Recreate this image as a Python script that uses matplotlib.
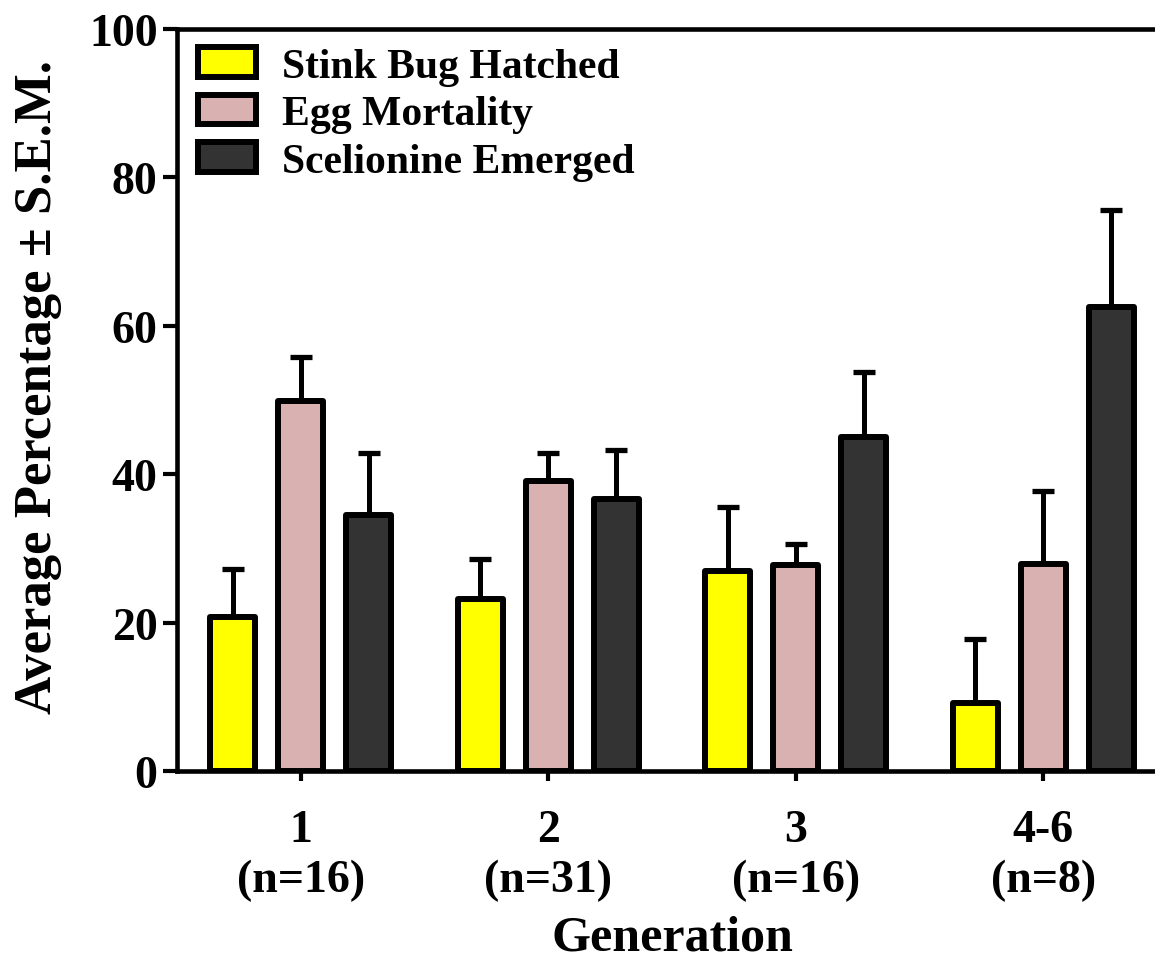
import matplotlib
matplotlib.use("Agg")
import matplotlib.pyplot as plt
import numpy as np
from matplotlib.patches import Patch

generations = ["1\n(n=16)", "2\n(n=31)", "3\n(n=16)", "4-6\n(n=8)"]
series_names = ["Stink Bug Hatched", "Egg Mortality", "Scelionine Emerged"]
hatched = [20.7, 23.2, 27.0, 9.2]
hatched_sem = [6.5, 5.4, 8.6, 8.6]
mortality = [49.9, 39.1, 27.8, 27.9]
mortality_sem = [5.9, 3.8, 2.8, 9.8]
emerged = [34.5, 36.7, 45.0, 62.5]
emerged_sem = [8.4, 6.6, 8.8, 13.1]
colors = ["#FFFF00", "#D8B1B0", "#333333"]

plt.rcParams['font.family'] = ['Liberation Serif', 'DejaVu Serif']
plt.rcParams['font.weight'] = 'bold'

fig = plt.figure(figsize=(11.55, 9.62), dpi=100)
ax = fig.add_axes([177/1155, 1-772/962, 990/1155, 742/962])

x = np.arange(len(generations))
pitch = 0.274
width = 0.182
vals = [hatched, mortality, emerged]
sems = [hatched_sem, mortality_sem, emerged_sem]
for i, (v, s, c) in enumerate(zip(vals, sems, colors)):
    pos = x + (i - 1) * pitch
    ax.errorbar(pos, v, yerr=[np.zeros(len(s)), s], fmt='none', ecolor='black',
                elinewidth=3.6, capsize=8, capthick=3.8, zorder=1)
    ax.bar(pos, v, width=width, color=c, edgecolor='black', linewidth=4.3,
           joinstyle='round', zorder=2)

ax.set_xlim(-0.5, 3.5)
ax.set_ylim(0, 100)
ax.set_yticks([0, 20, 40, 60, 80, 100])
ax.set_xticks(x)
ax.set_xticklabels(generations, fontsize=33, fontweight='bold', linespacing=1.25)
ax.tick_params(axis='y', labelsize=33, length=10, width=3, pad=4)
ax.tick_params(axis='x', length=7, width=3, pad=20)
for lab in ax.get_yticklabels():
    lab.set_fontweight('bold')
for sp in ax.spines.values():
    sp.set_linewidth(3.3)

ax.set_xlabel("Generation", fontsize=36, fontweight='bold', labelpad=10)
ax.set_ylabel("Average Percentage ± S.E.M.", fontsize=38, fontweight='bold')
ax.yaxis.set_label_coords(-0.116, 0.519)

handles = [Patch(facecolor=c, edgecolor='black', linewidth=4.3, joinstyle='round') for c in colors]
leg = ax.legend(handles, series_names, loc='upper left', frameon=False,
                prop={'size': 30, 'weight': 'bold'}, handlelength=1.4, handleheight=0.72,
                labelspacing=0.22, handletextpad=0.62, borderaxespad=0.0,
                bbox_to_anchor=(0.004, 0.998))

fig.savefig("out.png", dpi=100)
